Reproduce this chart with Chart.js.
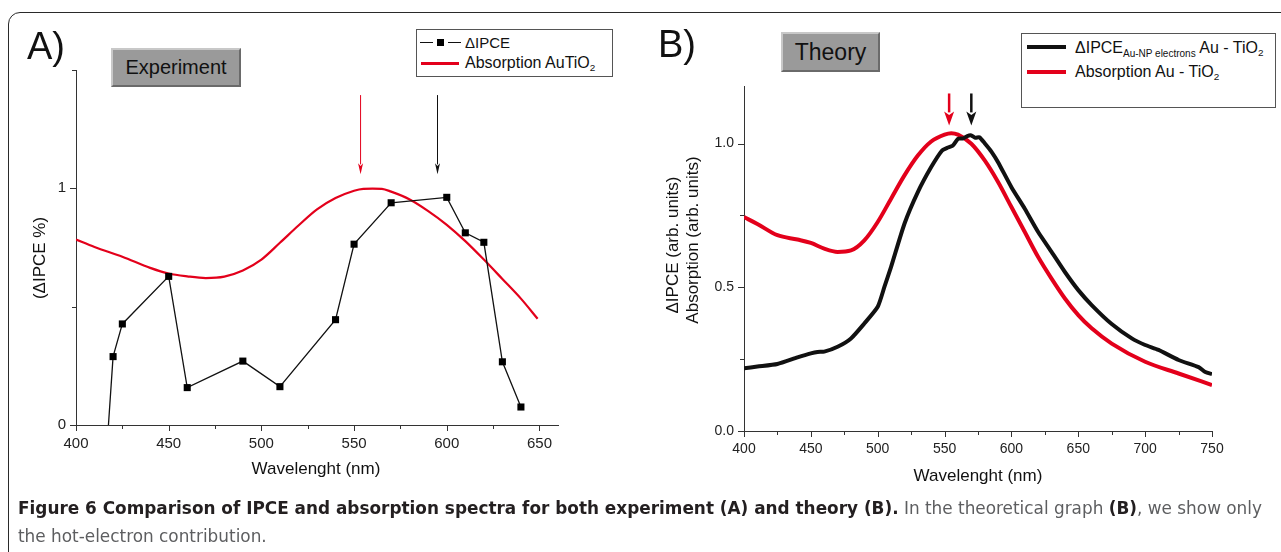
<!DOCTYPE html>
<html><head><meta charset="utf-8">
<script src="https://cdn.jsdelivr.net/npm/chart.js@4.4.1/dist/chart.umd.min.js"></script>
<style>
html,body{margin:0;padding:0;background:#fff;width:1281px;height:552px;overflow:hidden;font-family:"Liberation Sans",Arial,sans-serif;color:#111;}
#frame{position:absolute;left:8px;top:12px;width:1330px;height:620px;border:1.5px solid #2a2a2a;border-radius:12px;box-sizing:border-box;}
canvas{position:absolute;top:0;}
#cA{left:0;} #cB{left:640px;}
.c{position:absolute;white-space:nowrap;transform:translate(-50%,-50%);line-height:1;}
.rot{transform:translate(-50%,-50%) rotate(-90deg);}
.box{position:absolute;background:#9a9a9a;border:2px solid;border-color:#c8c8c8 #6a6a6a #6a6a6a #c8c8c8;box-sizing:border-box;display:flex;align-items:center;justify-content:center;color:#111;}
.leg{position:absolute;border:1px solid #555;background:#fff;box-sizing:border-box;}
.lt{position:absolute;white-space:nowrap;line-height:1;transform:translateY(-50%);}
.lt sub{font-size:62%;vertical-align:-0.35em;line-height:0;}
.ln{position:absolute;}
.cap{position:absolute;left:18px;white-space:nowrap;font-family:"Liberation Sans Narrow","DejaVu Sans Condensed","Liberation Sans",sans-serif;font-size:18px;color:#5d5e60;transform-origin:0 50%;line-height:1;}
.cap b{color:#231f20;}
</style></head>
<body>
<div id="frame"></div>
<canvas id="cA" width="640" height="552"></canvas>
<canvas id="cB" width="641" height="552"></canvas>

<div class="c" style="left:46px;top:46px;font-size:38px;">A)</div>
<div class="c" style="left:677px;top:44px;font-size:38px;">B)</div>
<div class="box" style="left:111px;top:48px;width:130px;height:39px;font-size:20px;">Experiment</div>
<div class="box" style="left:781px;top:32px;width:99px;height:40px;font-size:23px;">Theory</div>

<div class="c rot" style="left:39px;top:258px;font-size:17px;">(ΔIPCE %)</div>
<div class="c" style="left:316px;top:468px;font-size:17px;">Wavelenght (nm)</div>
<div class="c rot" style="left:672px;top:245px;font-size:17px;">ΔIPCE (arb. units)</div>
<div class="c rot" style="left:692px;top:240px;font-size:17px;">Absorption (arb. units)</div>
<div class="c" style="left:978px;top:475px;font-size:17px;">Wavelenght (nm)</div>

<div class="leg" style="left:416px;top:29px;width:197px;height:48px;"></div>
<div class="ln" style="left:420px;top:41.5px;width:13px;height:1.3px;background:#111;"></div>
<div class="ln" style="left:437px;top:39px;width:7px;height:7px;background:#000;"></div>
<div class="ln" style="left:448px;top:41.5px;width:13px;height:1.3px;background:#111;"></div>
<div class="lt" style="left:465px;top:42px;font-size:15px;">ΔIPCE</div>
<div class="ln" style="left:421px;top:62px;width:38px;height:2.5px;background:#e3001b;"></div>
<div class="lt" style="left:465px;top:63px;font-size:16px;">Absorption AuTiO<sub>2</sub></div>

<div class="leg" style="left:1021px;top:33px;width:255px;height:75px;"></div>
<div class="ln" style="left:1027px;top:45px;width:39px;height:4px;background:#111;"></div>
<div class="lt" style="left:1075px;top:48px;font-size:16px;">ΔIPCE<sub style="font-size:10px;">Au-NP electrons</sub> Au - TiO<sub>2</sub></div>
<div class="ln" style="left:1027px;top:70px;width:39px;height:4px;background:#e3001b;"></div>
<div class="lt" style="left:1075px;top:72px;font-size:16px;">Absorption Au - TiO<sub>2</sub></div>

<div id="cap1" class="cap" style="top:499px;"><b>Figure 6 Comparison of IPCE and absorption spectra for both experiment (A) and theory (B).</b> In the theoretical graph <b>(B)</b>, we show only</div>
<div id="cap2" class="cap" style="top:527px;">the hot-electron contribution.</div>

<script>
// ---------- data ----------
const ipceWavelength = [417.5, 420, 425, 450, 460, 490, 510, 540, 550, 570, 600, 610, 620, 630, 640];
const ipceValue      = [0, 0.289, 0.427, 0.628, 0.158, 0.270, 0.162, 0.445, 0.764, 0.939, 0.962, 0.812, 0.772, 0.267, 0.076];

const absAWavelength = [400, 410, 425, 440, 450, 460, 470, 480, 490, 500, 510, 520, 530, 540, 550, 555, 560, 565, 570, 580, 590, 600, 610, 620, 630, 640, 649];
const absAValue      = [0.784, 0.752, 0.711, 0.664, 0.640, 0.628, 0.621, 0.627, 0.653, 0.699, 0.770, 0.843, 0.911, 0.959, 0.990, 0.998, 0.999, 0.998, 0.986, 0.953, 0.904, 0.846, 0.777, 0.699, 0.617, 0.534, 0.449];

const ipceBWavelength = [400, 410, 425, 440, 450, 455, 460, 470, 480, 490, 500, 505, 510, 520, 530, 540, 548, 552, 556, 560, 564, 567, 570, 573, 576, 580, 585, 590, 600, 610, 620, 630, 640, 650, 660, 675, 690, 700, 710, 725, 740, 745, 750];
const ipceBValue      = [0.218, 0.224, 0.233, 0.256, 0.270, 0.275, 0.276, 0.293, 0.322, 0.374, 0.432, 0.501, 0.571, 0.721, 0.831, 0.918, 0.975, 0.985, 0.992, 1.016, 1.018, 1.026, 1.028, 1.020, 1.022, 1.001, 0.972, 0.935, 0.848, 0.773, 0.692, 0.623, 0.553, 0.490, 0.438, 0.372, 0.322, 0.299, 0.282, 0.247, 0.222, 0.205, 0.198];

const absBWavelength = [400, 410, 425, 440, 450, 460, 470, 480, 490, 500, 510, 520, 530, 540, 550, 555, 560, 570, 580, 590, 600, 610, 620, 630, 640, 650, 660, 675, 700, 725, 750];
const absBValue      = [0.744, 0.720, 0.681, 0.666, 0.654, 0.634, 0.623, 0.628, 0.663, 0.727, 0.808, 0.889, 0.958, 1.007, 1.031, 1.036, 1.031, 0.999, 0.941, 0.866, 0.779, 0.692, 0.605, 0.530, 0.461, 0.403, 0.357, 0.304, 0.241, 0.200, 0.160];

// peak markers (wavelength, value range)
const arrowsA = [{x: 553.5, from: 1.394, to: 1.059, color: 'red'}, {x: 595, from: 1.394, to: 1.059, color: 'black'}];
const arrowsB = [{x: 553.4, from: 1.174, to: 1.063, color: 'red'}, {x: 570, from: 1.174, to: 1.063, color: 'black'}];

// ticks
const xTicksA = [400, 425, 450, 475, 500, 525, 550, 575, 600, 625, 650];
const xLabelsA = [400, 450, 500, 550, 600, 650];
const yTicksA = [0, 0.5, 1, 1.5];
const yLabelsA = [0, 1];
const xTicksB = [400, 425, 450, 475, 500, 525, 550, 575, 600, 625, 650, 675, 700, 725, 750];
const xLabelsB = [400, 450, 500, 550, 600, 650, 700, 750];
const yTicksB = [0, 0.25, 0.5, 0.75, 1.0];
const yLabelsB = [0, 0.5, 1.0];

// ---------- styling ----------
const RED = '#e3001b', BLACK = '#111111', AXIS = '#333333';
const FONT = "'Liberation Sans', Arial, sans-serif";
const pts = (xs, ys) => xs.map((x, i) => ({x, y: ys[i]}));

const arrowPlugin = {
  id: 'arrows',
  afterDatasetsDraw(chart, args, opts) {
    const {ctx, scales: {x, y}} = chart;
    ctx.save();
    opts.items.forEach(a => {
      const col = a.color === 'red' ? RED : BLACK;
      const px = x.getPixelForValue(a.x);
      const y0 = y.getPixelForValue(a.from), y1 = y.getPixelForValue(a.to);
      ctx.strokeStyle = col; ctx.fillStyle = col; ctx.lineWidth = opts.width;
      ctx.beginPath(); ctx.moveTo(px, y0); ctx.lineTo(px, y1 - opts.headLen + 1); ctx.stroke();
      ctx.beginPath(); ctx.moveTo(px, y1); ctx.lineTo(px - opts.headW / 2, y1 - opts.headLen);
      ctx.lineTo(px, y1 - opts.headLen * 0.75); ctx.lineTo(px + opts.headW / 2, y1 - opts.headLen); ctx.closePath(); ctx.fill();
    });
    ctx.restore();
  }
};

const tickPlugin = {
  id: 'ticksDraw',
  afterDraw(chart, args, opts) {
    const {ctx, chartArea: ca, scales: {x, y}} = chart;
    ctx.save(); ctx.strokeStyle = AXIS; ctx.lineWidth = 1;
    x.ticks.forEach(t => {
      const px = Math.round(x.getPixelForValue(t.value)) + 0.5;
      const len = opts.xMajor.includes(t.value) ? opts.major : opts.minor;
      ctx.beginPath(); ctx.moveTo(px, ca.bottom); ctx.lineTo(px, ca.bottom + len); ctx.stroke();
    });
    y.ticks.forEach(t => {
      const py = Math.round(y.getPixelForValue(t.value)) + 0.5;
      const len = opts.yMajor.includes(t.value) ? opts.major : opts.minor;
      ctx.beginPath(); ctx.moveTo(ca.left, py); ctx.lineTo(ca.left - len, py); ctx.stroke();
    });
    ctx.restore();
  }
};

function axis(min, max, ticks, labels, fmt, isX, size, fontSize) {
  return {
    type: 'linear', min, max,
    afterBuildTicks: s => { s.ticks = ticks.map(v => ({value: v})); },
    afterFit: s => { if (isX) s.height = size; else s.width = size; },
    ticks: {
      autoSkip: false, maxRotation: 0, color: '#222', padding: isX ? 4 : 4,
      font: {family: FONT, size: fontSize},
      callback: v => labels.includes(v) ? fmt(v) : ''
    },
    grid: {display: true, drawOnChartArea: false, drawTicks: true, tickLength: 6, tickColor: 'rgba(0,0,0,0)'},
    border: {display: true, color: AXIS, width: 1}
  };
}

const common = {responsive: false, animation: false, events: [], maintainAspectRatio: false};

new Chart(document.getElementById('cA'), {
  type: 'line',
  data: {datasets: [
    {label: 'ΔIPCE', data: pts(ipceWavelength, ipceValue), borderColor: BLACK, borderWidth: 1.3,
     pointStyle: 'rect', pointRadius: c => c.dataIndex === 0 ? 0 : 5, pointBackgroundColor: '#000', pointBorderWidth: 0, tension: 0},
    {label: 'Absorption AuTiO2', data: pts(absAWavelength, absAValue), borderColor: RED, borderWidth: 2.2,
     pointRadius: 0, cubicInterpolationMode: 'monotone'}
  ]},
  options: Object.assign({}, common, {
    layout: {padding: {left: 0, top: 70, right: 82, bottom: 87}},
    plugins: {legend: {display: false}, tooltip: {enabled: false},
      arrows: {items: arrowsA, width: 1, headW: 5, headLen: 11},
      ticksDraw: {xMajor: xLabelsA, yMajor: yLabelsA, major: 6, minor: 4}},
    scales: {
      x: axis(400, 660, xTicksA, xLabelsA, v => String(v), true, 40, 15),
      y: axis(0, 1.5, yTicksA, yLabelsA, v => String(v), false, 76, 15)
    }
  }),
  plugins: [arrowPlugin, tickPlugin]
});

new Chart(document.getElementById('cB'), {
  type: 'line',
  data: {datasets: [
    {label: 'ΔIPCE', data: pts(ipceBWavelength, ipceBValue), borderColor: BLACK, borderWidth: 4,
     pointRadius: 0, tension: 0.2},
    {label: 'Absorption Au - TiO2', data: pts(absBWavelength, absBValue), borderColor: RED, borderWidth: 4,
     pointRadius: 0, cubicInterpolationMode: 'monotone'}
  ]},
  options: Object.assign({}, common, {
    layout: {padding: {left: 0, top: 86, right: 69, bottom: 81}},
    plugins: {legend: {display: false}, tooltip: {enabled: false},
      arrows: {items: arrowsB, width: 2.5, headW: 10, headLen: 14},
      ticksDraw: {xMajor: xLabelsB, yMajor: yLabelsB, major: 6, minor: 4}},
    scales: {
      x: axis(400, 750, xTicksB, xLabelsB, v => String(v), true, 40, 14),
      y: axis(0, 1.2, yTicksB, yLabelsB, v => v.toFixed(1), false, 104, 14)
    }
  }),
  plugins: [arrowPlugin, tickPlugin]
});

// fit caption to reference width
const c1 = document.getElementById('cap1'), c2 = document.getElementById('cap2');
const k = 1244 / c1.getBoundingClientRect().width;
c1.style.transform = 'translateY(-50%) scaleX(' + k + ')';
c2.style.transform = 'translateY(-50%) scaleX(' + k + ')';
c1.style.top = '508px'; c2.style.top = '536px';
</script>
</body></html>
